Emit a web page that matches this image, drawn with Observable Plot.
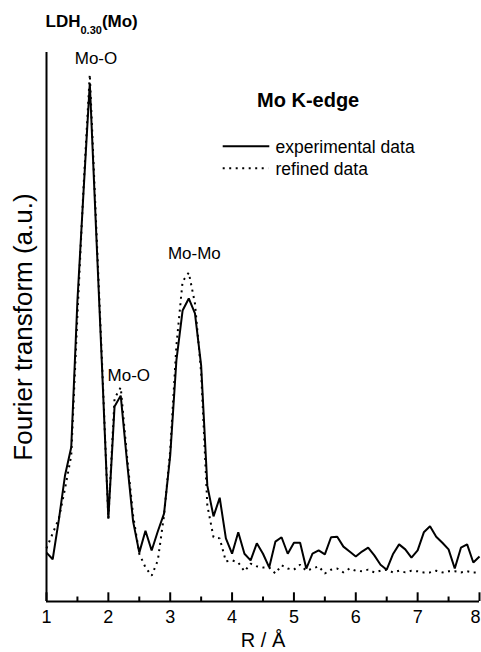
<!DOCTYPE html>
<html>
<head>
<meta charset="utf-8">
<script src="https://cdn.jsdelivr.net/npm/d3@7"></script>
<script src="https://cdn.jsdelivr.net/npm/@observablehq/plot@0.6"></script>
<style>
  html, body { margin: 0; padding: 0; background: #fff; }
  #wrap { position: relative; width: 481px; height: 652px; font-family: "Liberation Sans", Arial, sans-serif; color: #000; overflow: hidden; }
  #chart { position: absolute; left: 0; top: 0; }
  .abs { position: absolute; white-space: nowrap; }
  .title { font-size: 17px; font-weight: bold; line-height: 20px; }
  .title .sub { font-size: 11px; position: relative; top: 6.5px; }
  .edge { font-size: 20px; font-weight: bold; line-height: 24px; }
  .legtxt { font-size: 17.5px; line-height: 20px; }
</style>
</head>
<body>
<div id="wrap">
  <div id="chart"></div>
  <div class="abs title" style="left:45.5px; top:12.4px;">LDH<span class="sub">0.30</span>(Mo)</div>
  <div class="abs edge" style="left:257px; top:88.4px;">Mo K-edge</div>
  <svg class="abs" style="left:222px; top:140px;" width="52" height="36">
    <line x1="0.7" x2="47.3" y1="6.3" y2="6.3" stroke="#000" stroke-width="2"/>
    <line x1="0.7" x2="46.3" y1="28.3" y2="28.3" stroke="#000" stroke-width="2" stroke-dasharray="2,4.5"/>
  </svg>
  <div class="abs legtxt" style="left:275.5px; top:136.6px;">experimental data</div>
  <div class="abs legtxt" style="left:275.5px; top:158.9px;">refined data</div>
</div>
<script>
// R / Å grid
const rValues = [
  1.0, 1.1, 1.2, 1.3, 1.4, 1.5, 1.6, 1.7, 1.8, 1.9,
  2.0, 2.1, 2.2, 2.3, 2.4, 2.5, 2.6, 2.7, 2.8, 2.9,
  3.0, 3.1, 3.2, 3.3, 3.4, 3.5, 3.6, 3.7, 3.8, 3.9,
  4.0, 4.1, 4.2, 4.3, 4.4, 4.5, 4.6, 4.7, 4.8, 4.9,
  5.0, 5.1, 5.2, 5.3, 5.4, 5.5, 5.6, 5.7, 5.8, 5.9,
  6.0, 6.1, 6.2, 6.3, 6.4, 6.5, 6.6, 6.7, 6.8, 6.9,
  7.0, 7.1, 7.2, 7.3, 7.4, 7.5, 7.6, 7.7, 7.8, 7.9,
  8.0
];
// experimental data (a.u.)
const experimental = [
  8.9, 7.7, 14.9, 23.0, 28.1, 54.8, 74.9, 94.4, 68.1, 42.1,
  15.1, 35.5, 37.5, 25.7, 14.6, 8.9, 12.9, 9.3, 12.8, 16.0,
  26.6, 43.9, 53.0, 55.2, 52.5, 43.0, 21.1, 15.5, 18.9, 11.5,
  8.7, 12.6, 8.7, 7.5, 10.6, 8.7, 6.2, 10.9, 11.7, 8.7,
  10.7, 10.7, 6.0, 8.7, 9.3, 8.6, 11.7, 11.8, 10.0, 9.1,
  8.2, 9.1, 9.8, 8.4, 6.7, 5.8, 8.6, 10.4, 9.5, 8.0,
  9.3, 12.6, 13.7, 11.8, 10.7, 9.5, 6.0, 9.8, 10.4, 7.1,
  8.2
];
// refined data (a.u.)
const refined = [
  9.7, 12.4, 15.1, 20.6, 26.6, 52.1, 75.8, 96.0, 69.4, 43.0,
  15.1, 37.0, 39.0, 26.6, 15.7, 8.7, 6.2, 4.7, 7.5, 15.7,
  27.5, 46.6, 58.3, 59.9, 54.3, 41.7, 17.5, 11.7, 11.5, 7.3,
  7.5, 7.1, 5.5, 6.9, 6.4, 6.2, 6.2, 5.1, 6.6, 6.0,
  5.8, 6.7, 5.6, 6.0, 6.4, 5.1, 5.8, 6.0, 5.3, 6.0,
  5.6, 5.5, 5.8, 5.3, 5.6, 5.8, 5.3, 5.6, 5.3, 5.6,
  5.5, 5.3, 5.3, 5.6, 5.3, 5.5, 5.5, 5.3, 5.5, 5.3,
  5.3
];
// axis ticks
const majorTicks = [1, 2, 3, 4, 5, 6, 7, 8];
const minorTicks = [1.5, 2.5, 3.5, 4.5, 5.5, 6.5, 7.5];
// peak annotations (data coordinates)
const peakNames = ["Mo-O", "Mo-O", "Mo-Mo"];
const peakR = [1.80, 2.33, 3.39];
const peakY = [98.9, 41.2, 63.4];

const rows = rValues.map((r, i) => ({r, exp: experimental[i], ref: refined[i]}));
const peaks = peakNames.map((label, i) => ({label, x: peakR[i], y: peakY[i]}));

const W = 481, H = 652, mT = 52, mB = 51;
const frameH = H - mT - mB;
const lastTick = majorTicks[majorTicks.length - 1];

const chart = Plot.plot({
  width: W,
  height: H,
  marginLeft: 46,
  marginRight: 2,
  marginTop: mT,
  marginBottom: mB,
  style: {fontFamily: "Liberation Sans, Arial, sans-serif", background: "transparent", color: "#000"},
  x: {domain: [1, 8]},
  y: {domain: [0, 100], axis: null},
  marks: [
    Plot.line(rows, {x: "r", y: "ref", stroke: "#000", strokeWidth: 2, strokeDasharray: "2,4.5", strokeLinecap: "butt", strokeLinejoin: "miter"}),
    Plot.line(rows, {x: "r", y: "exp", stroke: "#000", strokeWidth: 2, strokeLinejoin: "miter", strokeLinecap: "butt"}),
    Plot.ruleY([0], {stroke: "#000", strokeWidth: 2}),
    Plot.ruleX([1], {stroke: "#000", strokeWidth: 2}),
    Plot.tickX(majorTicks, {x: d => d, stroke: "#000", strokeWidth: 2, insetTop: frameH - 8.7}),
    Plot.tickX(minorTicks, {x: d => d, stroke: "#000", strokeWidth: 2, insetTop: frameH - 4.5}),
    Plot.axisX(majorTicks.filter(d => d !== lastTick), {tickSize: 0, tickPadding: 9, fontSize: 18, tickFormat: d => String(d), label: null}),
    Plot.axisX([lastTick], {tickSize: 0, tickPadding: 9, fontSize: 18, tickFormat: d => String(d), label: null, dx: -4}),
    Plot.text(peaks, {x: "x", y: "y", text: "label", fontSize: 17, lineAnchor: "middle", fill: "#000"}),
    Plot.text(["Fourier transform (a.u.)"], {frameAnchor: "left", textAnchor: "middle", rotate: -90, dx: -23.3, fontSize: 26, lineAnchor: "middle", fill: "#000"}),
    Plot.text(["R / Å"], {frameAnchor: "bottom", textAnchor: "middle", dy: 39, fontSize: 20, lineAnchor: "middle", fill: "#000"})
  ]
});
document.getElementById("chart").appendChild(chart);
</script>
</body>
</html>
